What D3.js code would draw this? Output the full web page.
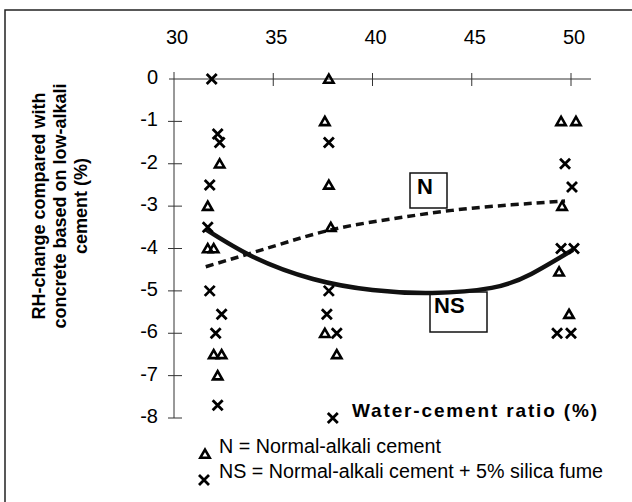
<!DOCTYPE html>
<html>
<head>
<meta charset="utf-8">
<script src="https://d3js.org/d3.v7.min.js"></script>
<style>
  body { margin: 0; background: #fff; }
  text { font-family: Arial, "Liberation Sans", sans-serif; fill: #000; }
</style>
</head>
<body>
<div id="chart"></div>
<script>
// x ticks (water-cement ratio, %) and y ticks (RH-change, %)
var xTicks = [30, 35, 40, 45, 50];
var yTicks = [0, -1, -2, -3, -4, -5, -6, -7, -8];

// N = normal-alkali cement (triangles)
var nWc = [31.7, 32.3, 31.7, 32.0, 32.0, 32.4, 32.2, 37.8, 37.6, 37.8, 37.9, 37.6, 38.2, 49.5, 50.25, 49.55, 49.4, 49.9];
var nRh = [-3, -2, -4, -4, -6.5, -6.5, -7, 0, -1, -2.5, -3.5, -6, -6.5, -1, -1, -3, -4.55, -5.55];

// NS = normal-alkali cement + 5% silica fume (crosses)
var nsWc = [31.9, 32.2, 32.3, 31.8, 31.7, 31.8, 32.4, 32.1, 32.2, 37.8, 37.8, 37.7, 38.2, 38.0, 49.7, 50.05, 49.5, 50.15, 49.3, 50.0];
var nsRh = [0, -1.3, -1.5, -2.5, -3.5, -5, -5.55, -6, -7.7, -1.5, -5, -5.55, -6, -8, -2, -2.55, -4, -4, -6, -6];

// trend curves
var nCurveWc = [31.6, 35, 38, 41, 44, 47, 49.7];
var nCurveRh = [-4.43, -3.95, -3.55, -3.3, -3.1, -2.97, -2.88];
var nsCurveWc = [31.6, 34, 37, 40, 43, 46, 48, 50.1];
var nsCurveRh = [-3.55, -4.2, -4.72, -4.98, -5.05, -4.93, -4.6, -4.03];

var width = 632, height = 502;

var svg = d3.select("#chart")
    .append("svg")
    .attr("width", width)
    .attr("height", height);

// frame (only top and left edges fall inside the picture)
svg.append("path")
    .attr("d", "M5,502 L5,10 L632,10")
    .attr("fill", "none")
    .attr("stroke", "#222")
    .attr("stroke-width", 1.5);

var xScale = d3.scaleLinear()
    .domain([30, 50])
    .range([174, 571]);

var yScale = d3.scaleLinear()
    .domain([0, -8])
    .range([79, 418]);

// x axis along y = 0, labels on top
svg.append("line")
    .attr("x1", xScale(30) - 5).attr("x2", xScale(50) + 20)
    .attr("y1", yScale(0)).attr("y2", yScale(0))
    .attr("stroke", "#333");

svg.selectAll(".xtick")
    .data(xTicks.slice(1))
    .enter()
    .append("line")
    .attr("class", "xtick")
    .attr("x1", function(d) { return xScale(d); })
    .attr("x2", function(d) { return xScale(d); })
    .attr("y1", yScale(0) - 6)
    .attr("y2", yScale(0) + 7)
    .attr("stroke", "#333");

svg.selectAll(".xlab")
    .data(xTicks)
    .enter()
    .append("text")
    .attr("class", "xlab")
    .attr("x", function(d) { return xScale(d) + 3; })
    .attr("y", 44)
    .attr("text-anchor", "middle")
    .style("font-size", "20px")
    .text(function(d) { return d; });

// y axis at x = 30
svg.append("line")
    .attr("x1", xScale(30)).attr("x2", xScale(30))
    .attr("y1", yScale(0) - 7).attr("y2", yScale(-8))
    .attr("stroke", "#333");

svg.selectAll(".ytick")
    .data(yTicks.slice(1))
    .enter()
    .append("line")
    .attr("class", "ytick")
    .attr("x1", xScale(30) - 6)
    .attr("x2", xScale(30) + 8)
    .attr("y1", function(d) { return yScale(d); })
    .attr("y2", function(d) { return yScale(d); })
    .attr("stroke", "#333");

svg.selectAll(".ylab")
    .data(yTicks)
    .enter()
    .append("text")
    .attr("class", "ylab")
    .attr("x", 158)
    .attr("y", function(d) { return yScale(d) - 2; })
    .attr("dy", "0.35em")
    .attr("text-anchor", "end")
    .style("font-size", "20px")
    .text(function(d) { return d; });

// y title (three lines, rotated)
var ytitle = ["RH-change compared with", "concrete based on low-alkali", "cement (%)"];
svg.selectAll(".ytitle")
    .data(ytitle)
    .enter()
    .append("text")
    .attr("class", "ytitle")
    .attr("transform", function(d, i) { return "translate(" + (45 + i * 21) + ",206) rotate(-90)"; })
    .attr("text-anchor", "middle")
    .style("font-size", "18px")
    .style("font-weight", "bold")
    .text(function(d) { return d; });

// x title
svg.append("text")
    .attr("x", 352)
    .attr("y", 417)
    .attr("textLength", 245)
    .attr("lengthAdjust", "spacing")
    .style("font-size", "19px")
    .style("font-weight", "bold")
    .text("Water-cement ratio (%)");

// trend curves
var line = d3.line()
    .x(function(d) { return xScale(d[0]); })
    .y(function(d) { return yScale(d[1]); })
    .curve(d3.curveNatural);

svg.append("path")
    .datum(d3.zip(nCurveWc, nCurveRh))
    .attr("d", line)
    .attr("fill", "none")
    .attr("stroke", "#111")
    .attr("stroke-width", 3.5)
    .attr("stroke-dasharray", "8,5");

svg.append("path")
    .datum(d3.zip(nsCurveWc, nsCurveRh))
    .attr("d", line)
    .attr("fill", "none")
    .attr("stroke", "#111")
    .attr("stroke-width", 4.5);

// curve labels in boxes
var boxes = [
    {label: "N", x: 410, y: 173, w: 37, h: 35, tx: 417, ty: 194},
    {label: "NS", x: 430, y: 292, w: 57, h: 40, tx: 434, ty: 313}
];
boxes.forEach(function(b) {
    svg.append("rect")
        .attr("x", b.x).attr("y", b.y)
        .attr("width", b.w).attr("height", b.h)
        .attr("fill", "none")
        .attr("stroke", "#111")
        .attr("stroke-width", 1.5);
    svg.append("text")
        .attr("x", b.tx).attr("y", b.ty)
        .style("font-size", "22px")
        .style("font-weight", "bold")
        .text(b.label);
});

// markers
var tri = d3.symbol().type(d3.symbolTriangle).size(38);
var cross = function(s) {
    return "M" + (-s) + "," + (-s) + "L" + s + "," + s + "M" + s + "," + (-s) + "L" + (-s) + "," + s;
};

svg.selectAll(".tri")
    .data(d3.zip(nWc, nRh))
    .enter()
    .append("path")
    .attr("class", "tri")
    .attr("transform", function(d) { return "translate(" + xScale(d[0]) + "," + (yScale(d[1]) + 1) + ")"; })
    .attr("d", tri)
    .attr("fill", "none")
    .attr("stroke", "#000")
    .attr("stroke-width", 2.6);

svg.selectAll(".cross")
    .data(d3.zip(nsWc, nsRh))
    .enter()
    .append("path")
    .attr("class", "cross")
    .attr("transform", function(d) { return "translate(" + xScale(d[0]) + "," + yScale(d[1]) + ")"; })
    .attr("d", cross(5))
    .attr("fill", "none")
    .attr("stroke", "#000")
    .attr("stroke-width", 2.8);

// legend
svg.append("path")
    .attr("transform", "translate(205,455)")
    .attr("d", tri)
    .attr("fill", "none")
    .attr("stroke", "#000")
    .attr("stroke-width", 2.6);
svg.append("text")
    .attr("x", 219).attr("y", 453)
    .attr("textLength", 222)
    .attr("lengthAdjust", "spacingAndGlyphs")
    .style("font-size", "20px")
    .text("N = Normal-alkali cement");

svg.append("path")
    .attr("transform", "translate(204,480)")
    .attr("d", cross(5))
    .attr("fill", "none")
    .attr("stroke", "#000")
    .attr("stroke-width", 2.8);
svg.append("text")
    .attr("x", 219).attr("y", 478)
    .attr("textLength", 384)
    .attr("lengthAdjust", "spacingAndGlyphs")
    .style("font-size", "20px")
    .text("NS = Normal-alkali cement + 5% silica fume");
</script>
</body>
</html>
